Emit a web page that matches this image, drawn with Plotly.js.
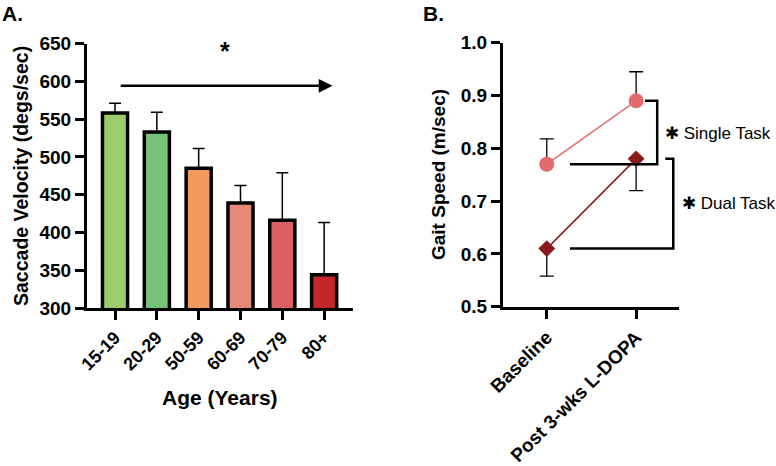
<!DOCTYPE html>
<html>
<head>
<meta charset="utf-8">
<script src="https://cdn.plot.ly/plotly-3.0.1.min.js"></script>
<style>html,body{margin:0;padding:0;background:#fff;}#chart{width:776px;height:466px;}</style>
</head>
<body>
<div id="chart"></div>
<script>
// Panel A data
const ageGroups = ['15-19', '20-29', '50-59', '60-69', '70-79', '80+'];
const saccadeMean = [558, 533, 485, 439, 416, 344];
const saccadeErr = [13, 26, 26, 23, 63, 69];
const barColors = ['#9dcd6b', '#76c278', '#f19a5b', '#e48a78', '#dc6062', '#c3262b'];

// Panel B data
const conditions = ['Baseline', 'Post 3-wks L-DOPA'];
const singleTask = [0.77, 0.89];
const singleTaskErrUp = [0.048, 0.055];
const dualTask = [0.61, 0.78];
const dualTaskErrDown = [0.052, 0.06];

const FONT = 'Arial, "Liberation Sans", Helvetica, sans-serif';
const H = 466, W = 776;
const px = v => v / W;
const py = v => 1 - v / H;

const traces = [
  {
    type: 'bar', x: ageGroups, y: saccadeMean, xaxis: 'x', yaxis: 'y',
    width: 0.6,
    marker: {color: barColors, line: {color: '#000', width: 3.5}},
    error_y: {type: 'data', symmetric: false, array: saccadeErr, arrayminus: saccadeErr.map(() => 0),
              color: '#000', thickness: 1.5, width: 6},
    hoverinfo: 'skip', showlegend: false
  },
  {
    type: 'scatter', mode: 'lines+markers', x: conditions, y: singleTask, xaxis: 'x2', yaxis: 'y2',
    line: {color: '#e37070', width: 1.5},
    marker: {symbol: 'circle', size: 15, color: '#e36b6b'},
    error_y: {type: 'data', symmetric: false, array: singleTaskErrUp, arrayminus: singleTaskErrUp.map(() => 0),
              color: '#000', thickness: 1.3, width: 7},
    cliponaxis: false, showlegend: false
  },
  {
    type: 'scatter', mode: 'lines+markers', x: conditions, y: dualTask, xaxis: 'x2', yaxis: 'y2',
    line: {color: '#8b1a1a', width: 1.5},
    marker: {symbol: 'diamond', size: 13, color: '#8b1a1e'},
    error_y: {type: 'data', symmetric: false, array: dualTaskErrDown.map(() => 0), arrayminus: dualTaskErrDown,
              color: '#000', thickness: 1.3, width: 7},
    cliponaxis: false, showlegend: false
  }
];

const axisCommon = {
  showgrid: false, zeroline: false, showline: true, linecolor: '#000', linewidth: 3,
  ticks: 'outside', ticklen: 9, tickwidth: 3, tickcolor: '#000', automargin: false, fixedrange: true
};

const layout = {
  width: W, height: H,
  margin: {l: 0, r: 0, t: 0, b: 0},
  paper_bgcolor: '#fff', plot_bgcolor: 'rgba(0,0,0,0)',
  font: {family: FONT, color: '#000'},
  showlegend: false,
  xaxis: Object.assign({}, axisCommon, {
    domain: [px(87), px(353)], anchor: 'y', range: [-0.67, 5.69],
    tickangle: -45, tickfont: {family: FONT, size: 18, weight: 'bold', color: '#000'}
  }),
  yaxis: Object.assign({}, axisCommon, {
    domain: [py(308), py(43.5)], anchor: 'x', range: [300, 650], tickvals: [300, 350, 400, 450, 500, 550, 600, 650],
    tickfont: {family: FONT, size: 19, weight: 'bold', color: '#000'}
  }),
  xaxis2: Object.assign({}, axisCommon, {
    domain: [px(503), px(679)], anchor: 'y2', range: [-0.49, 1.48],
    tickangle: -45, tickfont: {family: FONT, size: 19, weight: 'bold', color: '#000'}
  }),
  yaxis2: Object.assign({}, axisCommon, {
    domain: [py(306.7), py(42.7)], anchor: 'x2', range: [0.5, 1.0], tickvals: [0.5, 0.6, 0.7, 0.8, 0.9, 1.0],
    tickformat: '.1f',
    tickfont: {family: FONT, size: 19, weight: 'bold', color: '#000'}
  }),
  shapes: [
    // Single task bracket
    {type: 'path', xref: 'x2', yref: 'y2', path: 'M 1.10 0.89 L 1.236 0.89 L 1.236 0.77 L 0.26 0.77',
     line: {color: '#000', width: 2.5}},
    // Dual task bracket
    {type: 'path', xref: 'x2', yref: 'y2', path: 'M 1.326 0.78 L 1.416 0.78 L 1.416 0.61 L 0.26 0.61',
     line: {color: '#000', width: 2.5}}
  ],
  annotations: [
    {text: '<b>A.</b>', xref: 'paper', yref: 'paper', x: px(0), y: py(13), xanchor: 'left', yanchor: 'middle',
     showarrow: false, font: {family: FONT, size: 21}},
    {text: '<b>B.</b>', xref: 'paper', yref: 'paper', x: px(421), y: py(13), xanchor: 'left', yanchor: 'middle',
     showarrow: false, font: {family: FONT, size: 21}},
    {text: '<b>Saccade Velocity (degs/sec)</b>', xref: 'paper', yref: 'paper', x: px(21), y: py(176),
     xanchor: 'center', yanchor: 'middle', textangle: -90, showarrow: false, font: {family: FONT, size: 19.5}},
    {text: '<b>Age (Years)</b>', xref: 'paper', yref: 'paper', x: px(220), y: py(397),
     xanchor: 'center', yanchor: 'middle', showarrow: false, font: {family: FONT, size: 21}},
    {text: '<b>Gait Speed (m/sec)</b>', xref: 'paper', yref: 'paper', x: px(439), y: py(175),
     xanchor: 'center', yanchor: 'middle', textangle: -90, showarrow: false, font: {family: FONT, size: 19}},
    // trend arrow
    {xref: 'x', yref: 'y', axref: 'x', ayref: 'y', x: 5.2, y: 594, ax: 0.1, ay: 594, text: '',
     showarrow: true, arrowhead: 2, arrowsize: 1.1, arrowwidth: 2.5, arrowcolor: '#000'},
    {text: '<b>*</b>', xref: 'x', yref: 'y', x: 2.63, y: 640, showarrow: false, font: {family: FONT, size: 25}},
    {text: '✱ Single Task', xref: 'paper', yref: 'paper', x: px(663), y: py(133), xanchor: 'left', yanchor: 'middle',
     showarrow: false, font: {family: FONT, size: 17}},
    {text: '✱ Dual Task', xref: 'paper', yref: 'paper', x: px(680), y: py(204), xanchor: 'left', yanchor: 'middle',
     showarrow: false, font: {family: FONT, size: 17}}
  ]
};

Plotly.newPlot('chart', traces, layout, {displayModeBar: false, staticPlot: true});
</script>
</body>
</html>
